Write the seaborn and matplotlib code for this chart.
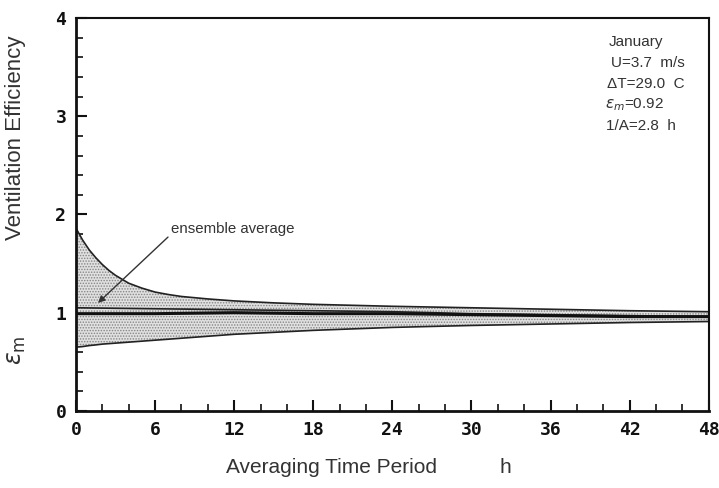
import numpy as np
import pandas as pd
import seaborn as sns
import matplotlib
matplotlib.use("Agg")
import matplotlib.pyplot as plt

# Valores (tempo de média em horas)
t = [0, 0.25, 0.5, 1, 1.5, 2, 2.5, 3, 3.5, 4, 5, 6, 7, 8, 10, 12, 15, 18,
     21, 24, 30, 36, 42, 48]
upper = [1.86, 1.80, 1.74, 1.64, 1.56, 1.49, 1.43, 1.38, 1.34, 1.30, 1.25,
         1.21, 1.185, 1.165, 1.14, 1.12, 1.10, 1.085, 1.075, 1.065, 1.05,
         1.035, 1.02, 1.01]
lower = [0.65, 0.652, 0.655, 0.665, 0.672, 0.68, 0.685, 0.69, 0.695, 0.70,
         0.71, 0.72, 0.73, 0.74, 0.76, 0.78, 0.80, 0.82, 0.835, 0.85, 0.87,
         0.885, 0.90, 0.91]

t_avg = [0, 6, 12, 18, 24, 30, 36, 42, 48]
ensemble = [1.05, 1.04, 1.03, 1.02, 1.01, 0.99, 0.98, 0.97, 0.96]
mean_line = [0.99, 0.99, 1.00, 0.99, 0.99, 0.98, 0.97, 0.96, 0.96]

xticks = [0, 6, 12, 18, 24, 30, 36, 42, 48]
yticks = [0, 1, 2, 3, 4]
info = ["January", "U=3.7  m/s", "ΔT=29.0  C", "$\\epsilon_m$=0.92", "1/A=2.8  h"]
info_x = [40.4, 40.57, 40.3, 40.12, 40.2]

df_env = pd.DataFrame({"t": t, "upper": upper, "lower": lower})
df_avg = pd.DataFrame({"t": t_avg, "ensemble": ensemble, "mean": mean_line})

sns.set_theme(style="white")
plt.rcParams["font.family"] = ["Liberation Sans", "DejaVu Sans"]
plt.rcParams["hatch.linewidth"] = 0.7

fig = plt.figure(figsize=(7.19, 4.88), dpi=100)
ax = fig.add_axes([0.1057, 0.158, 0.880, 0.805])

# faixa pontilhada entre os envelopes
ax.fill_between(df_env["t"], df_env["lower"], df_env["upper"],
                facecolor="#e0e0e0", edgecolor="#858585", hatch="......", linewidth=0)
sns.lineplot(data=df_env, x="t", y="upper", color="#222222", linewidth=1.2, ax=ax)
sns.lineplot(data=df_env, x="t", y="lower", color="#222222", linewidth=1.2, ax=ax)
sns.lineplot(data=df_avg, x="t", y="ensemble", color="#222222", linewidth=1.2, ax=ax)
sns.lineplot(data=df_avg, x="t", y="mean", color="#111111", linewidth=2.2, ax=ax)

ax.set_xlim(0, 48)
ax.set_ylim(0, 4)
ax.set_xticks(xticks)
ax.set_yticks(yticks)
ax.set_xticks(np.arange(0, 49, 2), minor=True)
ax.set_yticks(np.arange(0, 4.01, 0.2), minor=True)
tick_font = dict(family="DejaVu Sans Mono", weight="bold", size=13)
ax.set_xticklabels([str(v) for v in xticks], fontdict=tick_font)
ax.set_yticklabels([str(v) for v in yticks], fontdict=tick_font)
ax.tick_params(which="major", direction="in", length=8, width=1.5, pad=7,
               bottom=True, left=True, top=False, right=False, colors="#111111")
ax.tick_params(which="minor", direction="in", length=5, width=1.2,
               bottom=True, left=True, top=False, right=False, colors="#111111")
for side in ["left", "bottom"]:
    ax.spines[side].set_linewidth(2.0)
for side in ["top", "right"]:
    ax.spines[side].set_linewidth(1.5)
for s in ax.spines.values():
    s.set_color("#111111")
    s.set_visible(True)

ax.set_xlabel("")
ax.set_ylabel("")
fig.text(0.314, 0.043, "Averaging Time Period", fontsize=15, ha="left", va="center", color="#333333")
fig.text(0.703, 0.043, "h", fontsize=15, ha="center", va="center", color="#333333")
fig.text(0.022, 0.718, "Ventilation Efficiency", fontsize=16, rotation=90,
         ha="center", va="center", color="#333333")
fig.text(0.024, 0.283, "$\\epsilon_\\mathrm{m}$", fontsize=17, rotation=90,
         ha="center", va="center", color="#333333")

# bloco de informações
for i, line in enumerate(info):
    ax.text(info_x[i], 3.76 - i * 0.215, line, fontsize=11,
            color="#333333", ha="left", va="center")

# rótulo e seta da média do conjunto
ax.text(7.2, 1.85, "ensemble average", fontsize=10.8, color="#333333", ha="left", va="center")
ax.annotate("", xy=(1.67, 1.10), xytext=(6.98, 1.77),
            arrowprops=dict(arrowstyle="-|>", color="#333333", lw=1.0,
                            shrinkA=0, shrinkB=0, mutation_scale=10))

fig.savefig("out.png", dpi=100)
